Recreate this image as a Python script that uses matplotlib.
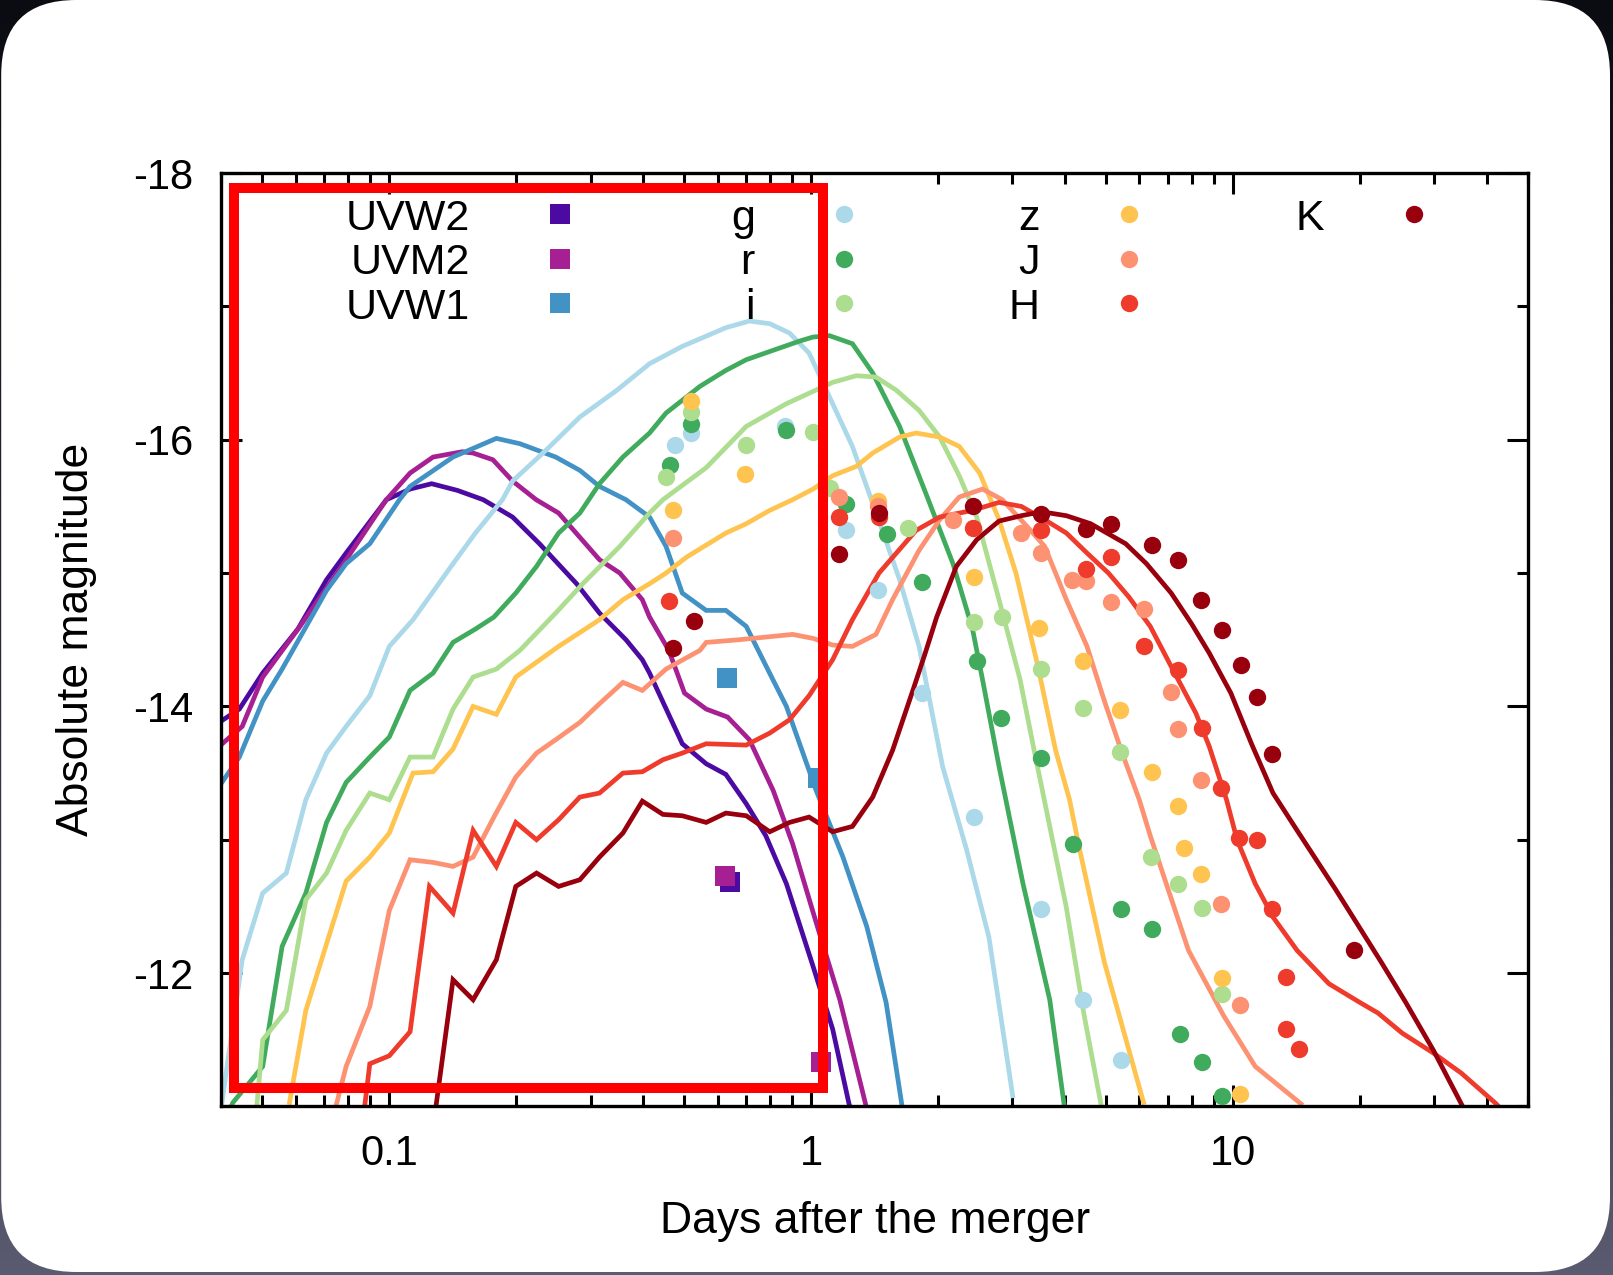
import numpy as np
import matplotlib.pyplot as plt
from matplotlib.colors import LinearSegmentedColormap
from matplotlib.patches import FancyBboxPatch, Rectangle
from matplotlib.ticker import FixedLocator, FixedFormatter, LogLocator, NullFormatter

# ---- model light curves (days, absolute magnitude) ----
uvw2_line_t = [0.0395, 0.0441, 0.0501, 0.0607, 0.0710, 0.0790, 0.0984, 0.112, 0.126, 0.145, 0.167, 0.196,
               0.227, 0.278, 0.315, 0.364, 0.398, 0.414, 0.495, 0.564, 0.628, 0.702, 0.781, 0.874, 1.011,
               1.125, 1.23, 1.29]
uvw2_line_m = [-13.88, -13.98, -14.25, -14.58, -14.95, -15.15, -15.55, -15.63, -15.67, -15.62, -15.55, -15.42,
               -15.22, -14.92, -14.70, -14.50, -14.35, -14.25, -13.72, -13.57, -13.49, -13.27, -13.03, -12.67,
               -12.05, -11.58, -11.02, -10.81]

uvm2_line_t = [0.0395, 0.0448, 0.0501, 0.0614, 0.0790, 0.0984, 0.112, 0.127, 0.149, 0.158, 0.176, 0.196,
               0.223, 0.252, 0.315, 0.352, 0.398, 0.414, 0.460, 0.501, 0.564, 0.634, 0.714, 0.813, 0.904,
               1.028, 1.17, 1.346]
uvm2_line_m = [-13.70, -13.85, -14.22, -14.60, -15.10, -15.55, -15.75, -15.87, -15.91, -15.90, -15.85, -15.69,
               -15.55, -15.45, -15.10, -15.00, -14.80, -14.67, -14.42, -14.10, -13.98, -13.92, -13.75, -13.37,
               -12.97, -12.38, -11.80, -11.02]

uvw1_line_t = [0.0395, 0.0441, 0.0501, 0.0557, 0.0710, 0.0790, 0.0899, 0.1057, 0.112, 0.1416, 0.1794, 0.204,
               0.248, 0.283, 0.315, 0.364, 0.414, 0.453, 0.495, 0.564, 0.628, 0.702, 0.812, 0.874, 1.028,
               1.19, 1.355, 1.506, 1.64]
uvw1_line_m = [-13.40, -13.62, -14.04, -14.28, -14.87, -15.07, -15.22, -15.55, -15.65, -15.87, -16.01, -15.97,
               -15.87, -15.77, -15.65, -15.55, -15.42, -15.20, -14.85, -14.72, -14.72, -14.60, -14.20, -14.00,
               -13.37, -12.87, -12.35, -11.78, -11.02]

g_line_t = [0.0400, 0.0409, 0.0448, 0.0501, 0.057, 0.0634, 0.0710, 0.0790, 0.0899, 0.1, 0.1138, 0.1416, 0.160,
            0.1855, 0.196, 0.235, 0.283, 0.346, 0.414, 0.495, 0.628, 0.714, 0.798, 0.889, 0.989, 1.106, 1.253,
            1.449, 1.621, 1.803, 2.05, 2.335, 2.64, 3.006]
g_line_m = [-11.00, -11.22, -12.10, -12.60, -12.75, -13.30, -13.65, -13.85, -14.08, -14.45, -14.65, -15.07, -15.30,
            -15.55, -15.69, -15.92, -16.17, -16.37, -16.57, -16.70, -16.84, -16.89, -16.87, -16.80, -16.65, -16.32,
            -15.95, -15.39, -14.95, -14.45, -13.55, -12.93, -12.27, -11.08]

r_line_t = [0.0400, 0.0426, 0.0501, 0.0557, 0.0634, 0.0710, 0.0790, 0.0899, 0.1, 0.112, 0.127, 0.1416, 0.160,
            0.177, 0.1995, 0.2234, 0.252, 0.283, 0.315, 0.358, 0.414, 0.453, 0.545, 0.628, 0.702, 0.812, 0.940,
            1.011, 1.106, 1.253, 1.40, 1.621, 1.875, 2.17, 2.414, 2.55, 2.79, 3.18, 3.68, 4.03]
r_line_m = [-10.85, -11.03, -11.30, -12.20, -12.60, -13.13, -13.43, -13.62, -13.77, -14.12, -14.25, -14.48, -14.58,
            -14.67, -14.85, -15.05, -15.30, -15.45, -15.67, -15.87, -16.05, -16.20, -16.40, -16.52, -16.60, -16.67,
            -16.74, -16.77, -16.78, -16.72, -16.50, -16.10, -15.59, -15.07, -14.58, -14.20, -13.55, -12.67, -11.80,
            -10.89]

i_line_t = [0.0485, 0.0501, 0.057, 0.0634, 0.0710, 0.0790, 0.0899, 0.1, 0.112, 0.127, 0.1416, 0.158, 0.1794,
            0.204, 0.248, 0.2875, 0.352, 0.414, 0.4454, 0.564, 0.702, 0.874, 1.125, 1.28, 1.425, 1.594, 1.803,
            2.018, 2.245, 2.47, 2.79, 3.13, 3.38, 4.03, 4.43, 4.96]
i_line_m = [-11.00, -11.50, -11.72, -12.55, -12.75, -13.07, -13.35, -13.30, -13.62, -13.62, -13.98, -14.22, -14.28,
            -14.42, -14.70, -14.92, -15.20, -15.45, -15.55, -15.79, -16.10, -16.27, -16.43, -16.48, -16.47, -16.37,
            -16.22, -16.02, -15.73, -15.42, -14.80, -14.20, -13.67, -12.49, -11.70, -10.88]

z_line_t = [0.058, 0.0634, 0.0710, 0.0790, 0.0899, 0.1, 0.1138, 0.127, 0.1416, 0.158, 0.1794, 0.1995, 0.252,
            0.315, 0.358, 0.414, 0.453, 0.507, 0.628, 0.702, 0.798, 0.904, 1.011, 1.125, 1.28, 1.40, 1.621, 1.774,
            2.018, 2.245, 2.51, 2.79, 3.06, 3.45, 3.80, 4.10, 4.33, 4.96, 6.14]
z_line_m = [-11.03, -11.72, -12.22, -12.69, -12.87, -13.05, -13.50, -13.51, -13.68, -14.00, -13.94, -14.22, -14.45,
            -14.65, -14.80, -14.92, -15.00, -15.12, -15.30, -15.37, -15.47, -15.55, -15.63, -15.73, -15.80, -15.90,
            -16.02, -16.05, -16.02, -15.95, -15.75, -15.40, -15.00, -14.30, -13.67, -13.30, -12.93, -12.08, -11.03]

J_line_t = [0.0747, 0.0790, 0.0899, 0.1, 0.112, 0.127, 0.1416, 0.158, 0.177, 0.1995, 0.2234, 0.248, 0.283, 0.315,
            0.358, 0.398, 0.453, 0.545, 0.564, 0.675, 0.904, 1.011, 1.125, 1.253, 1.425, 1.56, 1.803, 2.018, 2.245,
            2.55, 2.84, 3.25, 3.58, 4.03, 4.51, 4.96, 5.45, 6.0, 6.37, 7.85, 9.51, 11.3, 14.5]
J_line_m = [-11.00, -11.30, -11.75, -12.47, -12.85, -12.83, -12.80, -12.87, -13.17, -13.47, -13.65, -13.75, -13.88,
            -14.02, -14.18, -14.12, -14.28, -14.42, -14.48, -14.50, -14.54, -14.51, -14.46, -14.45, -14.54, -14.80,
            -15.17, -15.40, -15.57, -15.63, -15.55, -15.35, -15.20, -14.80, -14.45, -14.04, -13.66, -13.30, -13.03,
            -12.17, -11.68, -11.30, -11.02]

H_line_t = [0.0874, 0.0899, 0.1, 0.112, 0.1245, 0.1416, 0.158, 0.1794, 0.1995, 0.2234, 0.252, 0.283, 0.315, 0.358,
            0.398, 0.4454, 0.495, 0.564, 0.702, 0.798, 0.889, 0.989, 1.125, 1.253, 1.449, 1.774, 2.018, 2.414, 2.79,
            3.15, 3.58, 4.03, 4.51, 5.07, 5.67, 6.37, 7.14, 8.17, 8.79, 9.66, 10.23, 11.3, 12.45, 14.2, 16.9, 20.0,
            22.1, 25.2, 29.9, 34.8, 42.1, 47.1]
H_line_m = [-11.00, -11.32, -11.38, -11.56, -12.65, -12.45, -13.07, -12.80, -13.13, -13.00, -13.15, -13.32, -13.35,
            -13.50, -13.51, -13.60, -13.65, -13.72, -13.71, -13.80, -13.90, -14.08, -14.35, -14.65, -15.00, -15.32,
            -15.42, -15.47, -15.53, -15.50, -15.40, -15.30, -15.15, -15.00, -14.82, -14.60, -14.30, -13.95, -13.70,
            -13.30, -13.00, -12.67, -12.42, -12.17, -11.92, -11.78, -11.70, -11.55, -11.40, -11.25, -11.02, -10.85]

K_line_t = [0.129, 0.1416, 0.158, 0.1794, 0.1995, 0.2234, 0.252, 0.283, 0.315, 0.358, 0.398, 0.4454, 0.495, 0.564,
            0.628, 0.702, 0.798, 0.889, 0.989, 1.125, 1.253, 1.40, 1.56, 1.743, 1.865, 1.985, 2.21, 2.47, 2.79, 3.15,
            3.52, 4.03, 4.60, 5.57, 6.24, 7.14, 7.98, 8.79, 9.89, 11.07, 12.45, 14.2, 17.5, 22.5, 25.7, 29.9, 34.8,
            37.6]
K_line_m = [-11.00, -11.95, -11.80, -12.10, -12.65, -12.75, -12.65, -12.70, -12.87, -13.05, -13.29, -13.19, -13.18,
            -13.13, -13.20, -13.18, -13.06, -13.13, -13.17, -13.06, -13.10, -13.32, -13.67, -14.12, -14.40, -14.67,
            -15.05, -15.25, -15.39, -15.43, -15.46, -15.43, -15.37, -15.22, -15.07, -14.85, -14.62, -14.40, -14.10,
            -13.72, -13.35, -13.07, -12.63, -12.08, -11.78, -11.42, -11.02, -10.81]

# ---- observed photometry ----
uvw2_obs_t = [0.641]
uvw2_obs_m = [-12.68]
uvm2_obs_t = [0.624, 1.058]
uvm2_obs_m = [-12.73, -11.33]
uvw1_obs_t = [0.631, 1.037]
uvw1_obs_m = [-14.21, -13.46]

g_obs_t = [0.520, 0.477, 0.869, 1.21, 1.439, 1.834, 2.439, 3.505, 4.42, 5.44]
g_obs_m = [-16.05, -15.96, -16.10, -15.32, -14.87, -14.10, -13.17, -12.48, -11.80, -11.35]

r_obs_t = [0.520, 0.463, 0.872, 1.21, 1.512, 1.83, 2.475, 2.822, 3.499, 4.178, 5.44, 6.42, 7.48, 8.43, 9.41]
r_obs_m = [-16.12, -15.81, -16.07, -15.52, -15.29, -14.93, -14.34, -13.91, -13.61, -12.97, -12.48, -12.33,
           -11.54, -11.33, -11.08]

i_obs_t = [0.520, 0.452, 0.701, 1.009, 1.106, 1.698, 2.43, 2.84, 3.499, 4.42, 5.41, 6.40, 7.41, 8.43, 9.41]
i_obs_m = [-16.21, -15.72, -15.96, -16.06, -15.64, -15.34, -14.63, -14.67, -14.28, -13.99, -13.66, -12.87,
           -12.67, -12.49, -11.84]

z_obs_t = [0.520, 0.470, 0.699, 1.439, 2.439, 3.466, 4.42, 5.41, 6.42, 7.41, 7.66, 8.39, 9.41, 10.39]
z_obs_m = [-16.29, -15.47, -15.74, -15.54, -14.97, -14.59, -14.34, -13.97, -13.51, -13.25, -12.94, -12.74,
           -11.96, -11.09]

J_obs_t = [0.470, 1.163, 1.439, 2.167, 3.148, 3.499, 4.162, 4.49, 5.154, 6.16, 7.14, 7.41, 8.39, 9.37, 10.38]
J_obs_m = [-15.26, -15.57, -15.50, -15.40, -15.30, -15.15, -14.95, -14.94, -14.78, -14.73, -14.11, -13.83,
           -13.45, -12.52, -11.76]

H_obs_t = [0.460, 1.163, 1.447, 2.426, 3.499, 4.49, 5.154, 6.16, 7.41, 8.43, 9.37, 10.36, 11.4, 12.37, 13.36,
           13.36, 14.38]
H_obs_m = [-14.79, -15.42, -15.42, -15.34, -15.32, -15.03, -15.12, -14.45, -14.27, -13.84, -13.39, -13.01,
           -13.00, -12.48, -11.97, -11.58, -11.43]

K_obs_t = [0.529, 0.470, 1.163, 1.452, 2.426, 3.499, 4.49, 5.154, 6.42, 7.41, 8.39, 9.41, 10.43, 11.4, 12.37, 19.35]
K_obs_m = [-14.64, -14.44, -15.14, -15.45, -15.50, -15.44, -15.33, -15.37, -15.21, -15.10, -14.80, -14.57,
           -14.31, -14.07, -13.64, -12.17]

bands = ["UVW2", "UVM2", "UVW1", "g", "r", "i", "z", "J", "H", "K"]
colors = ["#4b0aa1", "#a61f93", "#4292c6", "#abd9e9", "#41ab5d", "#addd8e", "#fec44f", "#fc9272", "#ef3b2c",
          "#99000d"]
markers = ["s", "s", "s", "o", "o", "o", "o", "o", "o", "o"]
lines_t = [uvw2_line_t, uvm2_line_t, uvw1_line_t, g_line_t, r_line_t, i_line_t, z_line_t, J_line_t, H_line_t,
           K_line_t]
lines_m = [uvw2_line_m, uvm2_line_m, uvw1_line_m, g_line_m, r_line_m, i_line_m, z_line_m, J_line_m, H_line_m,
           K_line_m]
obs_t = [uvw2_obs_t, uvm2_obs_t, uvw1_obs_t, g_obs_t, r_obs_t, i_obs_t, z_obs_t, J_obs_t, H_obs_t, K_obs_t]
obs_m = [uvw2_obs_m, uvm2_obs_m, uvw1_obs_m, g_obs_m, r_obs_m, i_obs_m, z_obs_m, J_obs_m, H_obs_m, K_obs_m]

plt.rcParams["font.family"] = ["Liberation Sans", "DejaVu Sans"]
plt.rcParams["axes.unicode_minus"] = False

W, H = 16.13, 12.75
fig = plt.figure(figsize=(W, H), dpi=100)

# dark slide background with a white rounded card on top
bg = fig.add_axes([0, 0, 1, 1], zorder=-10)
bg_cmap = LinearSegmentedColormap.from_list("bg", ["#0b0b12", "#2a2a36", "#5a5a70"])
bg.imshow(np.linspace(0, 1, 256)[:, None], aspect="auto", cmap=bg_cmap, extent=[0, 1, 0, 1], origin="upper")
bg.add_patch(FancyBboxPatch((0.012, 0.03), W - 0.042, H - 0.03,
                            boxstyle="round,pad=0,rounding_size=0.75",
                            transform=fig.dpi_scale_trans, facecolor="white", edgecolor="none"))
bg.set_xlim(0, 1)
bg.set_ylim(0, 1)
bg.axis("off")

ax = fig.add_axes([0.1373, 0.1322, 0.8098, 0.7321])
ax.set_xscale("log")
ax.set_xlim(0.04, 50)
ax.set_ylim(-11, -18)

for t, m, c in zip(lines_t, lines_m, colors):
    ax.plot(t, m, color=c, lw=3.4, solid_joinstyle="miter", zorder=2)

for t, m, c, mk in zip(obs_t, obs_m, colors, markers):
    ms = 15 if mk == "s" else 12.5
    ax.plot(t, m, ls="none", marker=mk, ms=ms, color=c, mew=0, zorder=3)

# key: labels right-aligned with the symbol to their right, four columns
for k, (name, c, mk) in enumerate(zip(bands, colors, markers)):
    col, row = divmod(k, 3)
    xt = 0.1903 + 0.2179 * col
    yt = 0.9558 - 0.0477 * row
    ax.text(xt, yt - 0.0165, name, transform=ax.transAxes, ha="right", va="baseline", fontsize=31)
    ms = 15 if mk == "s" else 12.5
    ax.plot([xt + 0.0686], [yt], transform=ax.transAxes, ls="none", marker=mk, ms=ms, color=c, mew=0,
            clip_on=False, zorder=4)

ax.yaxis.set_major_locator(FixedLocator([-18, -16, -14, -12]))
ax.yaxis.set_minor_locator(FixedLocator([-17, -15, -13, -11]))
ax.xaxis.set_major_locator(FixedLocator([0.1, 1, 10]))
ax.xaxis.set_major_formatter(FixedFormatter(["0.1", "1", "10"]))
ax.xaxis.set_minor_locator(LogLocator(base=10, subs=np.arange(2, 10), numticks=20))
ax.xaxis.set_minor_formatter(NullFormatter())

ax.tick_params(which="both", direction="in", top=True, right=True, width=2.2, labelsize=30, pad=20)
ax.tick_params(which="major", length=15)
ax.tick_params(which="minor", length=8)
for s in ax.spines.values():
    s.set_linewidth(2.4)

ax.set_xlabel("Days after the merger", fontsize=32, labelpad=19)
ax.set_ylabel("Absolute magnitude", fontsize=32, labelpad=26)

# highlight box over the early-time region
ax.add_patch(Rectangle((0.0096, 0.0197), 0.4509, 0.9642, transform=ax.transAxes, fill=False,
                       edgecolor="#ff0000", lw=7.2, joinstyle="miter", clip_on=False, zorder=10))

fig.savefig("out.png", dpi=100)
